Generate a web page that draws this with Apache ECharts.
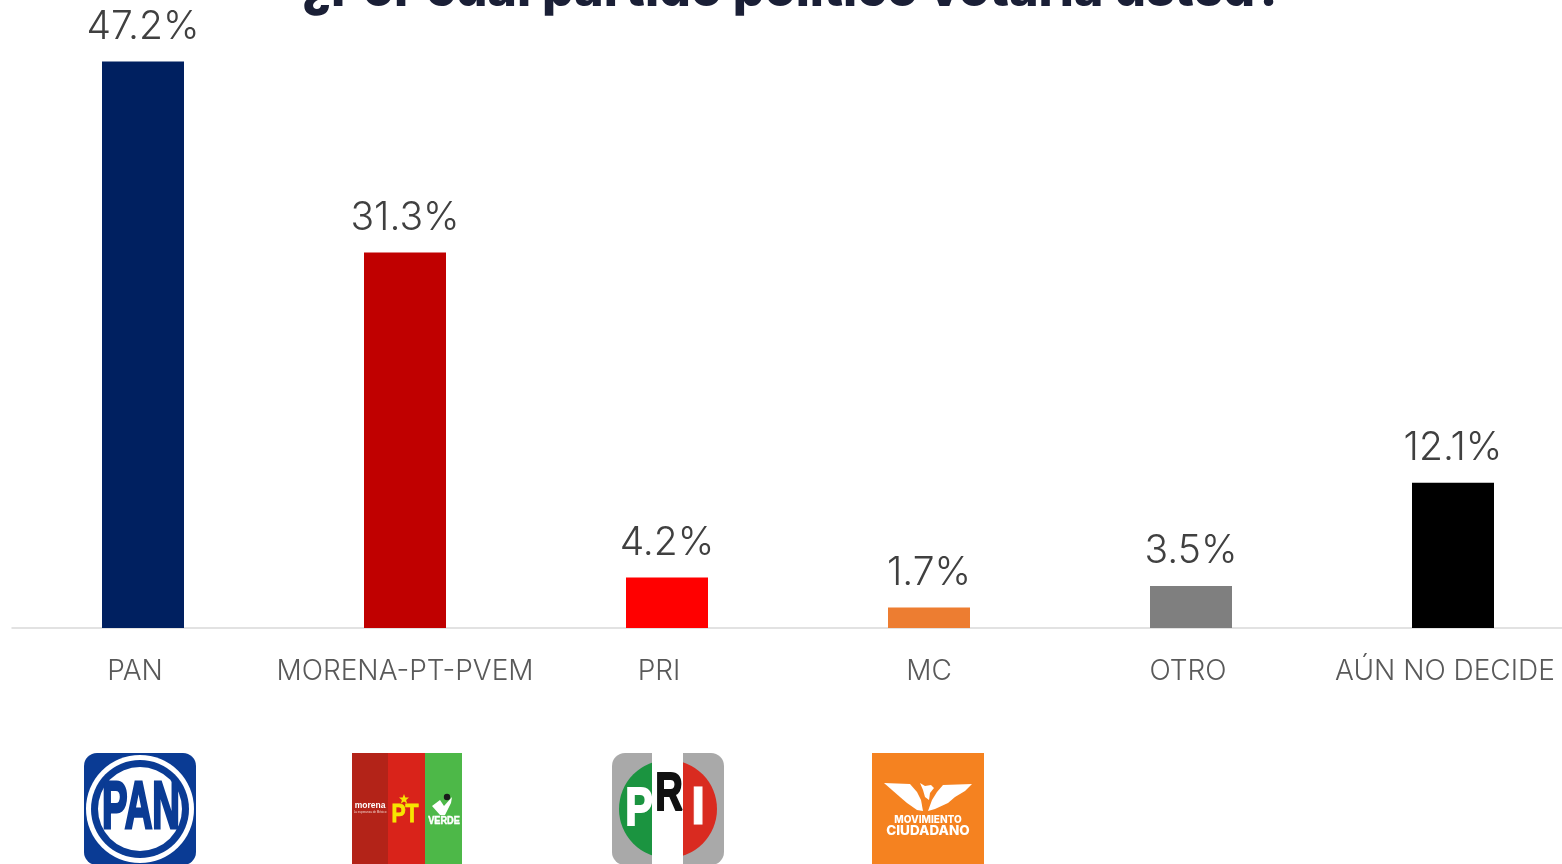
<!DOCTYPE html>
<html>
<head>
<meta charset="utf-8">
<title>Intención de voto</title>
<script src="https://cdn.jsdelivr.net/npm/echarts@6/dist/echarts.min.js"></script>
<style>
  html, body { margin: 0; padding: 0; background: #fff; overflow: hidden; }
  #chart { width: 1562px; height: 864px; }
</style>
</head>
<body>
<div id="chart"></div>
<script>
const titleText = '¿Por cuál partido político votaría usted?';
const categories = ['PAN', 'MORENA-PT-PVEM', 'PRI', 'MC', 'OTRO', 'AÚN NO DECIDE'];
const values = [47.2, 31.3, 4.2, 1.7, 3.5, 12.1];

const barColors = ['#002060', '#c00000', '#ff0000', '#ed7d31', '#7f7f7f', '#000000'];
// los textos del eje no van centrados bajo cada barra
const labelShift = [-8, 0, -8, 0, -3, -8];

const chart = echarts.init(document.getElementById('chart'));

function text(x, y, str, font, color, extra, stroke) {
  const el = Object.assign({
    type: 'text',
    x: x,
    y: y,
    style: {
      text: str,
      font: font,
      fill: color,
      align: 'center',
      verticalAlign: 'middle',
    },
  }, extra || {});
  if (stroke) {
    el.style.stroke = color;
    el.style.lineWidth = stroke;
  }
  return el;
}

function box(x, y, w, h, color, r) {
  return {
    type: 'rect',
    shape: { x: x, y: y, width: w, height: h, r: r || 0 },
    style: { fill: color },
  };
}

function disc(cx, cy, r, color) {
  return { type: 'circle', shape: { cx: cx, cy: cy, r: r }, style: { fill: color } };
}

function poly(points, color) {
  return { type: 'polygon', shape: { points: points }, style: { fill: color } };
}

const narrow = '"Liberation Sans Narrow", "Liberation Sans", sans-serif';

// PAN
const logoPan = [
  box(84, 753, 112, 112, '#0a3b94', 13),
  disc(140, 809, 54, '#ffffff'),
  disc(140, 809, 49, '#0a3b94'),
  disc(140, 809, 42, '#ffffff'),
  text(141, 810, 'PAN', 'bold 66px ' + narrow, '#0a3b94', { scaleX: 0.58 }, 3),
];

// morena, PT y Verde
const logoCoalicion = [
  box(352, 753, 36, 112, '#b32318'),
  box(388, 753, 37, 112, '#d9231a'),
  box(425, 753, 37, 112, '#4db848'),
  text(370, 806, 'morena', 'bold 8.5px "Liberation Sans", sans-serif', '#ffffff'),
  text(370, 812, 'La esperanza de México', '3px "Liberation Sans", sans-serif', '#f0d0c8'),
  text(405, 815, 'PT', 'bold 25px "Liberation Sans", sans-serif', '#f7e500', { scaleX: 0.85 }, 0.8),
  poly([[404, 794], [405.3, 797.4], [409, 797.6], [406.1, 799.9], [407.1, 803.5], [404, 801.5], [400.9, 803.5], [401.9, 799.9], [399, 797.6], [402.7, 797.4]], '#f7e500'),
  poly([[432, 806], [440, 800], [444, 806], [452, 797], [451, 803], [445, 815], [440, 815]], '#ffffff'),
  disc(447, 797, 3.2, '#1a1a1a'),
  text(444, 821, 'VERDE', 'bold 11.5px "Liberation Sans", sans-serif', '#ffffff', { scaleX: 0.8 }, 0.5),
];

// PRI
const logoPri = [
  box(612, 753, 112, 112, '#a9a9a9', 13),
  {
    type: 'sector',
    shape: { cx: 668, cy: 809, r: 49, startAngle: Math.PI / 2, endAngle: Math.PI * 1.5 },
    style: { fill: '#1b9440' },
  },
  {
    type: 'sector',
    shape: { cx: 668, cy: 809, r: 49, startAngle: -Math.PI / 2, endAngle: Math.PI / 2 },
    style: { fill: '#d92b20' },
  },
  box(652, 753, 31, 112, '#ffffff'),
  text(639, 810, 'P', 'bold 53px ' + narrow, '#ffffff', { scaleX: 0.78 }, 2),
  text(669, 795, 'R', 'bold 53px ' + narrow, '#111111', { scaleX: 0.72 }, 2),
  text(698, 809, 'I', 'bold 53px ' + narrow, '#ffffff', null, 1),
];

// Movimiento Ciudadano
const logoMc = [
  box(872, 753, 112, 112, '#f58220'),
  poly([[884, 783], [910, 784], [917, 792], [921, 800], [923, 811], [917, 810], [907, 803], [900, 797], [892, 790]], '#ffffff'),
  poly([[972, 784], [943, 785], [937, 792], [932, 800], [928, 811], [935, 809], [948, 803], [955, 797], [965, 791]], '#ffffff'),
  poly([[920, 783], [925, 786], [931, 785], [934, 788], [930, 793], [929, 800], [925, 797], [923, 790]], '#ffffff'),
  text(928, 820, 'MOVIMIENTO', '800 10px Inter, sans-serif', '#ffffff'),
  text(928, 830.5, 'CIUDADANO', '800 13.5px Inter, sans-serif', '#ffffff'),
];

const option = {
  backgroundColor: '#ffffff',
  animation: false,
  title: {
    text: titleText,
    left: 297,
    top: -39,
    textStyle: {
      fontFamily: 'Inter',
      fontWeight: 800,
      fontSize: 50,
      color: '#1a1f36',
    },
  },
  grid: {
    left: 12,
    top: 28,
    width: 1572,
    height: 600,
    outerBoundsMode: 'none',
  },
  xAxis: {
    type: 'category',
    data: categories,
    axisTick: { show: false },
    axisLine: { lineStyle: { color: '#d9d9d9', width: 1.5 } },
    axisLabel: {
      margin: 30,
      interval: 0,
      formatter: (val, i) => '{l' + i + '|' + val + '}',
      rich: Object.fromEntries(labelShift.map((s, i) => ['l' + i, {
        fontFamily: 'Inter',
        fontSize: 28,
        fontWeight: 300,
        color: '#595959',
        padding: s < 0 ? [0, -s * 2, 0, 0] : 0,
      }])),
    },
  },
  yAxis: {
    type: 'value',
    min: 0,
    max: 50,
    show: false,
  },
  series: [
    {
      type: 'bar',
      data: values,
      barWidth: 82,
      itemStyle: {
        color: params => barColors[params.dataIndex],
      },
      label: {
        show: true,
        position: 'top',
        distance: 15,
        formatter: params => params.value.toFixed(1) + '%',
        fontFamily: 'Inter',
        fontWeight: 300,
        fontSize: 39,
        color: '#404040',
      },
    },
  ],
  graphic: [].concat(logoPan, logoCoalicion, logoPri, logoMc),
};

chart.setOption(option);
window.addEventListener('resize', chart.resize);
</script>
</body>
</html>
